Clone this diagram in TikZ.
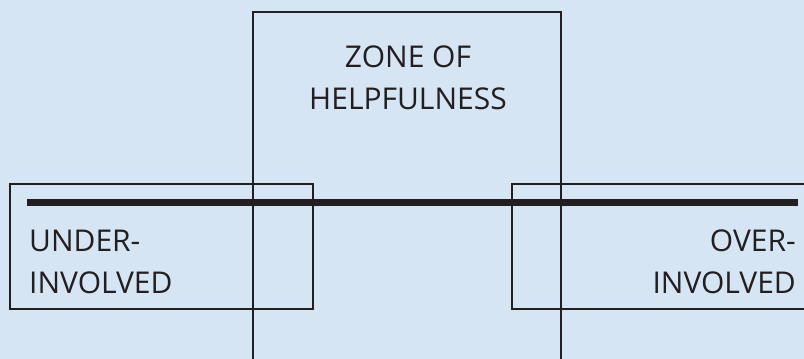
\documentclass[tikz,border=0pt]{standalone}
\usepackage{fontspec}
\setmainfont{Open Sans}
\definecolor{bgblue}{RGB}{213,229,244}
\definecolor{linegray}{RGB}{35,31,32}
\usetikzlibrary{positioning}

\begin{document}
\begin{tikzpicture}[x=1pt, y=-1pt,
    zone/.style={rectangle, draw=linegray, line width=1.1pt, inner sep=0pt},
    lbl/.style={text=linegray, inner sep=0pt,
                font=\fontsize{30}{41.5}\selectfont},
    bar/.style={line width=7pt, linegray}]

\fill[bgblue] (0,0) rectangle (804,359);
\useasboundingbox (0,0) rectangle (804,359);
\clip (0,0) rectangle (804,359);

% zones
\node[zone, minimum width=308pt, minimum height=370pt] (help) at (407,197) {};
\node[zone, minimum width=303pt, minimum height=125pt] (under) at (161.5,246.5) {};
\node[zone, minimum width=300pt, minimum height=125pt] (over) at (662,246.5) {};

% scale bar
\coordinate (barL) at (27,202);
\coordinate (barR) at (798,202);
\draw[bar] (barL) -- (barR);

% labels
\node[lbl, anchor=north, align=center] (zonetxt) at (408,46) {ZONE OF\\HELPFULNESS};
\node[lbl, anchor=north west, align=left] (undertxt) at (29,230) {UNDER-\\INVOLVED};
\node[lbl, anchor=north east, align=right] (overtxt) at (796,230) {OVER-\\INVOLVED};
\end{tikzpicture}
\end{document}
